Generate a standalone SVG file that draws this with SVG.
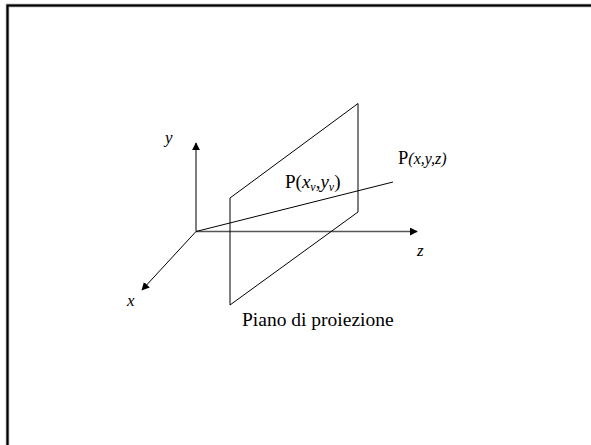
<svg xmlns="http://www.w3.org/2000/svg" width="591" height="445" viewBox="0 0 591 445">
<style>
text{font-family:'Liberation Serif','Times New Roman','DejaVu Serif',serif;fill:#000}
.it{font-style:italic}
.axis{stroke:#555;stroke-width:1.5;fill:none}
.ln{stroke:#000;stroke-width:1;fill:none}
</style>
<defs>
<marker id="ah" viewBox="0 0 10 10" refX="9" refY="5" markerWidth="8" markerHeight="8" markerUnits="userSpaceOnUse" orient="auto">
<path d="M0,0 L10,5 L0,10 z" fill="#000"/>
</marker>
</defs>
<rect width="591" height="445" fill="#fff"/>
<g id="frame">
<path d="M7.5,445 V5.5 H591" fill="none" stroke="#999" stroke-width="3.5"/>
<path d="M7.5,445 V5.5 H591" fill="none" stroke="#000" stroke-width="2"/>
</g>
<g id="connectors">
<line class="axis" x1="196" y1="231.5" x2="196" y2="143" marker-end="url(#ah)"/>
<line class="axis" x1="196" y1="231.5" x2="417" y2="231.5" marker-end="url(#ah)"/>
<line class="ln" x1="196" y1="231.5" x2="142" y2="290" marker-end="url(#ah)"/>
<line class="ln" x1="196" y1="231.5" x2="393" y2="182"/>
</g>
<g id="plane">
<path class="ln" d="M230,305 V198 L358,103.5 V212 Z"/>
</g>
<g id="labels" font-family="Liberation Serif, serif">
<text class="it" x="165" y="143" font-size="17">y</text>
<text class="it" x="127" y="306" font-size="17">x</text>
<text class="it" x="417" y="256" font-size="17">z</text>
<text x="398" y="164" font-size="18.5">P<tspan class="it" font-size="16">(x,y,z)</tspan></text>
<text x="285" y="188" font-size="19">P(<tspan class="it">x</tspan><tspan class="it" font-size="12" dy="3">v</tspan><tspan dy="-3">,</tspan><tspan class="it">y</tspan><tspan class="it" font-size="12" dy="3">v</tspan><tspan dy="-3">)</tspan></text>
<text x="242" y="326" font-size="19.5">Piano di proiezione</text>
</g>
</svg>
